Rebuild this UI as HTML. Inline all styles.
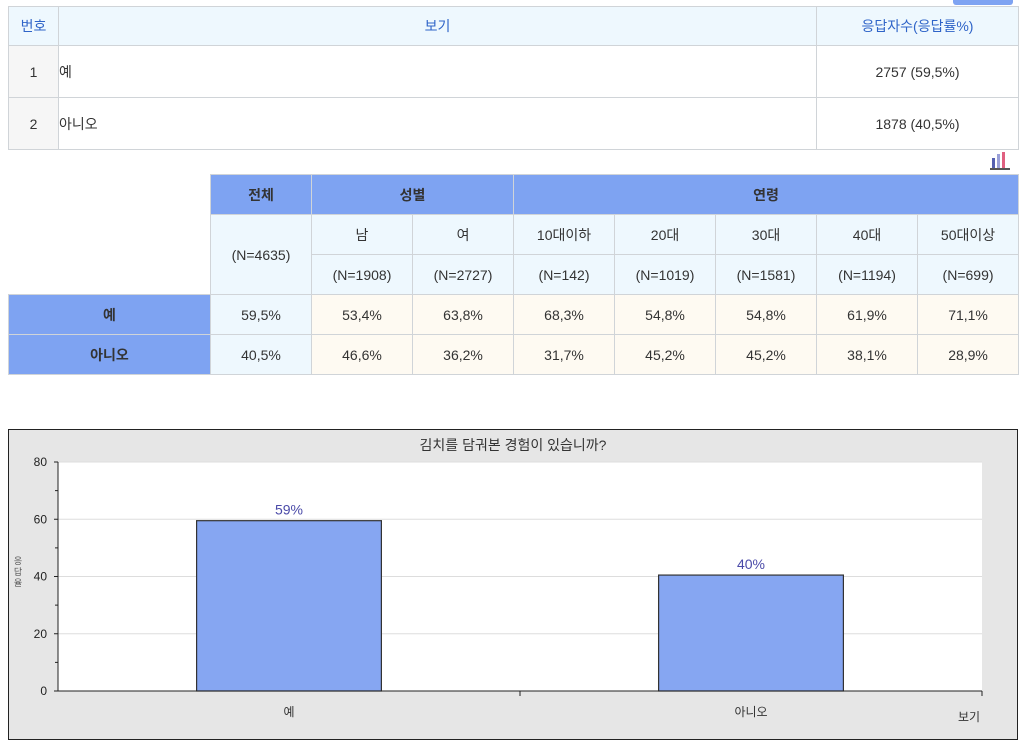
<!DOCTYPE html>
<html><head><meta charset="utf-8"><style>
body{margin:0;width:1023px;height:749px;background:#fff;position:relative;overflow:hidden;font-family:"Liberation Sans","Noto Sans CJK KR",sans-serif;font-size:14px}
.abs{position:absolute;box-sizing:border-box}
table{border-collapse:collapse;position:absolute;table-layout:fixed}
td{border:1px solid #d0d4d8;text-align:center;padding:0;box-sizing:border-box}
.t1 td{color:#333}
.t1 .h{background:#eef8fe;color:#2f64c8}
.t2 td{height:40px;color:#333}
.b{background:#7ea3f2;color:#fff;font-weight:bold}
.l{background:#eef8fe;color:#2f64c8}
.c{background:#fefaf2}
</style></head><body>
<div class="abs" style="left:953px;top:-4px;width:60px;height:9px;background:#7ea3f2;border-radius:3px"></div>
<table class="t1" style="left:8px;top:6px;width:1010px;border-bottom:1px dotted #4a7cd0">
<colgroup><col style="width:50px"><col style="width:758px"><col style="width:202px"></colgroup>
<tr style="height:39px"><td class="h">번호</td><td class="h">보기</td><td class="h">응답자수(응답률%)</td></tr>
<tr style="height:52px"><td style="background:#f6f6f6">1</td><td style="text-align:left">예</td><td>2757 (59,5%)</td></tr>
<tr style="height:52px"><td style="background:#f6f6f6">2</td><td style="text-align:left">아니오</td><td>1878 (40,5%)</td></tr>
</table>
<svg class="abs" style="left:989px;top:150px" width="22" height="20"><rect x="3" y="8" width="3" height="10" fill="#5560b0"/><rect x="8" y="4" width="3" height="14" fill="#9aa0d8"/><rect x="13" y="2" width="3" height="16" fill="#e06080"/><rect x="1" y="18" width="20" height="2" fill="#555"/></svg>
<table class="t2" style="left:8px;top:174px;width:1010px">
<colgroup><col style="width:202px"><col span="8" style="width:101px"></colgroup>
<tr><td rowspan="3" style="border:none;border-right:1px solid #d0d4d8"></td><td class="b">전체</td><td class="b" colspan="2">성별</td><td class="b" colspan="5">연령</td></tr>
<tr><td class="l" rowspan="2">(N=4635)</td><td class="l">남</td><td class="l">여</td><td class="l">10대이하</td><td class="l">20대</td><td class="l">30대</td><td class="l">40대</td><td class="l">50대이상</td></tr>
<tr><td class="l">(N=1908)</td><td class="l">(N=2727)</td><td class="l">(N=142)</td><td class="l">(N=1019)</td><td class="l">(N=1581)</td><td class="l">(N=1194)</td><td class="l">(N=699)</td></tr>
<tr><td class="b">예</td><td class="l">59,5%</td><td class="c">53,4%</td><td class="c">63,8%</td><td class="c">68,3%</td><td class="c">54,8%</td><td class="c">54,8%</td><td class="c">61,9%</td><td class="c">71,1%</td></tr>
<tr><td class="b">아니오</td><td class="l">40,5%</td><td class="c">46,6%</td><td class="c">36,2%</td><td class="c">31,7%</td><td class="c">45,2%</td><td class="c">45,2%</td><td class="c">38,1%</td><td class="c">28,9%</td></tr>
</table>
<svg id="chart" class="abs" style="left:0;top:0" width="1023" height="749" font-family="Liberation Sans, Noto Sans CJK KR, sans-serif"></svg>
<script>
const categories=["예","아니오"];
const values=[59.5,40.5];
const valueLabels=["59%","40%"];
const yTicks=[0,20,40,60,80];
const NS="http://www.w3.org/2000/svg";
const svg=document.getElementById("chart");
function mk(t,a,txt){const e=document.createElementNS(NS,t);for(const k in a)e.setAttribute(k,a[k]);if(txt!==undefined)e.textContent=txt;svg.appendChild(e);return e;}
const X0=58,X1=982,Y0=691,Y1=462,YMAX=80;
const y=v=>Y0-(v/YMAX)*(Y0-Y1);
const bw=(X1-X0)/categories.length;
const xc=i=>X0+bw*(i+0.5);
let e;
e=mk("rect",{x:8.5,y:429.5,width:1009,height:310,fill:"#e6e6e6",stroke:"#222"});


e=mk("rect",{x:X0,y:Y1,width:X1-X0,height:Y0-Y1,fill:"#fff"});


e=mk("text",{x:513,y:450,"text-anchor":"middle","font-size":14,fill:"#333"},"김치를 담궈본 경험이 있습니까?");


yTicks.forEach(v=>{
  if(v>0){e=mk("line",{x1:X0,x2:X1,y1:y(v),y2:y(v),stroke:"#ddd"});
  
  }
  e=mk("text",{x:47,y:y(v)+4,"text-anchor":"end","font-size":12,fill:"#222"},String(v));
  
  
  mk("line",{x1:X0-4,x2:X0,y1:y(v),y2:y(v),stroke:"#222"});
  if(v<80)mk("line",{x1:X0-3,x2:X0,y1:y(v+10),y2:y(v+10),stroke:"#222"});
});
categories.forEach((c,i)=>{
  const h=Y0-y(values[i]);
  e=mk("rect",{x:xc(i)-bw*0.2,y:y(values[i]),width:bw*0.4,height:h,fill:"#86a6f2",stroke:"#333","stroke-width":1.2});
  
  
  e=mk("text",{x:xc(i),y:y(values[i])-6,"text-anchor":"middle","font-size":14,fill:"#4a4aa8"},valueLabels[i]);
  
  
  e=mk("text",{x:xc(i),y:716,"text-anchor":"middle","font-size":12,fill:"#333"},c);
  
  
  if(i>0)mk("line",{x1:X0+bw*i,x2:X0+bw*i,y1:Y0,y2:Y0+5,stroke:"#222"});
});
mk("line",{x1:X0,x2:X0,y1:Y1,y2:Y0,stroke:"#222"});
mk("line",{x1:X0,x2:X1,y1:Y0,y2:Y0,stroke:"#222"});
mk("line",{x1:X1,x2:X1,y1:Y0,y2:Y0+5,stroke:"#222"});
e=mk("text",{x:958,y:721,"font-size":12,fill:"#333"},"보기");


["응","답","율"].forEach((ch,i)=>{
  e=mk("text",{x:18,y:564+i*11,"text-anchor":"middle","font-size":9,fill:"#555"},ch);
  
  
});
</script>
</body></html>
